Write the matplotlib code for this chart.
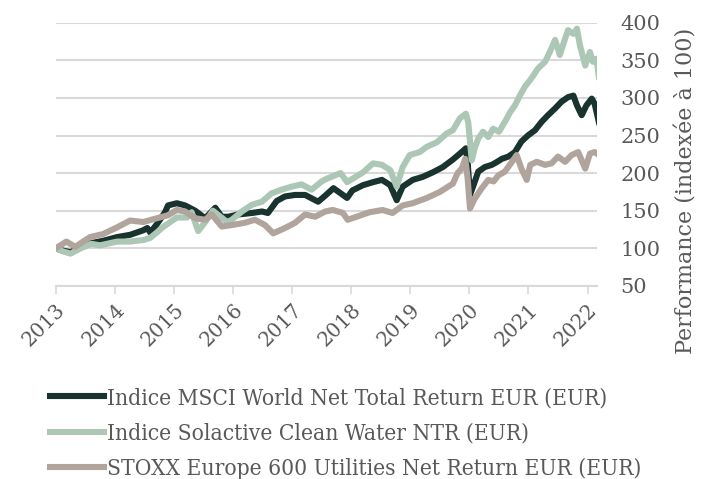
import matplotlib
matplotlib.use("Agg")
import matplotlib.pyplot as plt
from matplotlib.ticker import FixedLocator

# ---- data (x in chart-year coordinates) ----
msci_x = [2013.00, 2013.12, 2013.25, 2013.42, 2013.60, 2013.80, 2014.04, 2014.26, 2014.48,
          2014.55, 2014.60, 2014.71, 2014.85, 2014.90, 2015.05, 2015.19, 2015.36, 2015.53,
          2015.70, 2015.81, 2015.92, 2016.08, 2016.32, 2016.49, 2016.59, 2016.74, 2016.88,
          2017.05, 2017.22, 2017.44, 2017.56, 2017.70, 2017.93, 2018.02, 2018.20, 2018.37,
          2018.52, 2018.66, 2018.77, 2018.87, 2019.04, 2019.21, 2019.38, 2019.55, 2019.72,
          2019.84, 2019.94, 2019.97, 2020.01, 2020.07, 2020.15, 2020.26, 2020.38, 2020.47,
          2020.55, 2020.66, 2020.77, 2020.88, 2020.99, 2021.11, 2021.22, 2021.33, 2021.45,
          2021.56, 2021.67, 2021.76, 2021.82, 2021.90, 2021.98, 2022.07, 2022.12, 2022.19]
msci_v = [100, 97, 95, 101, 107, 110, 115, 118, 124,
          127, 121, 132, 148, 157, 160, 157, 150, 140,
          154, 142, 142, 145, 147, 149, 147, 163, 169,
          171, 171, 162, 170, 180, 167, 177, 184, 188,
          191, 184, 164, 182, 191, 195, 201, 208, 218,
          226, 233, 215, 171, 184, 202, 208, 211, 215,
          219, 222, 228, 242, 250, 257, 268, 277, 286,
          295, 301, 303, 290, 277, 290, 299, 292, 268]

water_x = [2013.00, 2013.12, 2013.25, 2013.42, 2013.60, 2013.75, 2014.04, 2014.26, 2014.48,
           2014.60, 2014.71, 2014.81, 2015.05, 2015.22, 2015.30, 2015.41, 2015.53, 2015.66,
           2015.90, 2015.98, 2016.15, 2016.32, 2016.49, 2016.65, 2016.82, 2016.99, 2017.16,
           2017.33, 2017.50, 2017.60, 2017.82, 2017.93, 2018.20, 2018.37, 2018.52, 2018.66,
           2018.77, 2018.87, 2018.99, 2019.16, 2019.28, 2019.45, 2019.62, 2019.72, 2019.84,
           2019.94, 2019.98, 2020.04, 2020.09, 2020.15, 2020.23, 2020.32, 2020.40, 2020.50,
           2020.60, 2020.69, 2020.77, 2020.86, 2020.94, 2021.05, 2021.16, 2021.28, 2021.36,
           2021.45, 2021.53, 2021.62, 2021.67, 2021.76, 2021.82, 2021.87, 2021.96, 2022.04,
           2022.09, 2022.15, 2022.19]
water_v = [100, 96, 93, 100, 106, 104, 109, 109, 111,
           114, 121, 128, 141, 141, 148, 123, 135, 150,
           135, 138, 149, 158, 162, 173, 178, 182, 185,
           178, 189, 193, 200, 188, 201, 213, 211, 204,
           182, 208, 224, 228, 235, 241, 253, 257, 273,
           279, 268, 217, 233, 246, 255, 248, 259, 255,
           268, 281, 290, 304, 315, 326, 339, 348, 361,
           377, 357, 379, 390, 385, 392, 370, 343, 361,
           348, 352, 328]

stoxx_x = [2013.00, 2013.18, 2013.33, 2013.58, 2013.80, 2014.04, 2014.26, 2014.48, 2014.71,
           2014.90, 2015.05, 2015.19, 2015.36, 2015.53, 2015.64, 2015.81, 2015.98, 2016.20,
           2016.37, 2016.54, 2016.68, 2016.88, 2017.05, 2017.22, 2017.39, 2017.56, 2017.69,
           2017.86, 2017.94, 2018.09, 2018.31, 2018.53, 2018.70, 2018.87, 2019.04, 2019.28,
           2019.50, 2019.72, 2019.80, 2019.87, 2019.93, 2019.97, 2020.01, 2020.09, 2020.21,
           2020.32, 2020.41, 2020.49, 2020.60, 2020.72, 2020.80, 2020.88, 2020.97, 2021.03,
           2021.14, 2021.28, 2021.39, 2021.50, 2021.62, 2021.73, 2021.84, 2021.96, 2022.04,
           2022.12, 2022.19]
stoxx_v = [100, 109, 102, 115, 119, 128, 137, 135, 140,
           144, 151, 149, 140, 138, 145, 129, 131, 134,
           138, 131, 120, 127, 134, 145, 142, 149, 151,
           147, 138, 142, 148, 151, 147, 157, 160, 167,
           175, 186, 200, 206, 219, 193, 153, 166, 180,
           191, 189, 197, 202, 215, 224, 206, 191, 211,
           215, 211, 213, 222, 215, 224, 228, 206, 226,
           228, 224]

labels = ["Indice MSCI World Net Total Return EUR (EUR)",
          "Indice Solactive Clean Water NTR (EUR)",
          "STOXX Europe 600 Utilities Net Return EUR (EUR)"]
year_ticks = [2013, 2014, 2015, 2016, 2017, 2018, 2019, 2020, 2021, 2022]
y_ticks = [50, 100, 150, 200, 250, 300, 350, 400]
y_label = "Performance (indexée à 100)"

# ---- styling ----
C_DARK = "#19332e"
C_GREEN = "#acc7b5"
C_BROWN = "#b0a49d"
C_GRID = "#d9d9d9"
C_TEXT = "#595959"
FONT = "DejaVu Serif"

fig = plt.figure(figsize=(7.09, 4.79), dpi=100)
ax = fig.add_axes([0.0786, 0.403, 0.7635, 0.5497])

l1, = ax.plot(msci_x, msci_v, color=C_DARK, lw=4.4, solid_joinstyle="round", zorder=3)
l2, = ax.plot(water_x, water_v, color=C_GREEN, lw=4.4, solid_joinstyle="round", zorder=4)
l3, = ax.plot(stoxx_x, stoxx_v, color=C_BROWN, lw=4.4, solid_joinstyle="round", zorder=5)

ax.set_xlim(2013.0, 2022.16)
ax.set_ylim(50, 400)
ax.xaxis.set_major_locator(FixedLocator(year_ticks))
ax.set_xticklabels([str(y) for y in year_ticks], rotation=45, ha="right",
                   rotation_mode="anchor", family=FONT, fontsize=14.5, color=C_TEXT)
ax.yaxis.tick_right()
ax.yaxis.set_label_position("right")
ax.set_yticks(y_ticks)
ax.set_yticklabels([str(v) for v in y_ticks], family=FONT, fontsize=15, color=C_TEXT)
ax.tick_params(axis="y", length=0, pad=17)
ax.tick_params(axis="x", length=6, width=1.2, color=C_GRID, pad=4)

ax.grid(axis="y", color=C_GRID, lw=1.5, zorder=0)
ax.set_axisbelow(True)
for s in ["top", "left", "right"]:
    ax.spines[s].set_visible(False)
ax.spines["bottom"].set_color(C_GRID)
ax.spines["bottom"].set_linewidth(1.5)

ax.set_ylabel(y_label, family=FONT, fontsize=16, color=C_TEXT, rotation=90)
ax.yaxis.set_label_coords(1.145, 0.36)

leg = fig.legend([l1, l2, l3], labels, loc="upper left", bbox_to_anchor=(0.0705, 0.192),
                 frameon=False, borderaxespad=0, borderpad=0, handlelength=2.4,
                 handletextpad=0.12, labelspacing=0.6,
                 prop=dict(family=FONT, size=16.3, stretch="condensed"))
for t in leg.get_texts():
    t.set_color(C_TEXT)

fig.savefig("out.png", dpi=100)
